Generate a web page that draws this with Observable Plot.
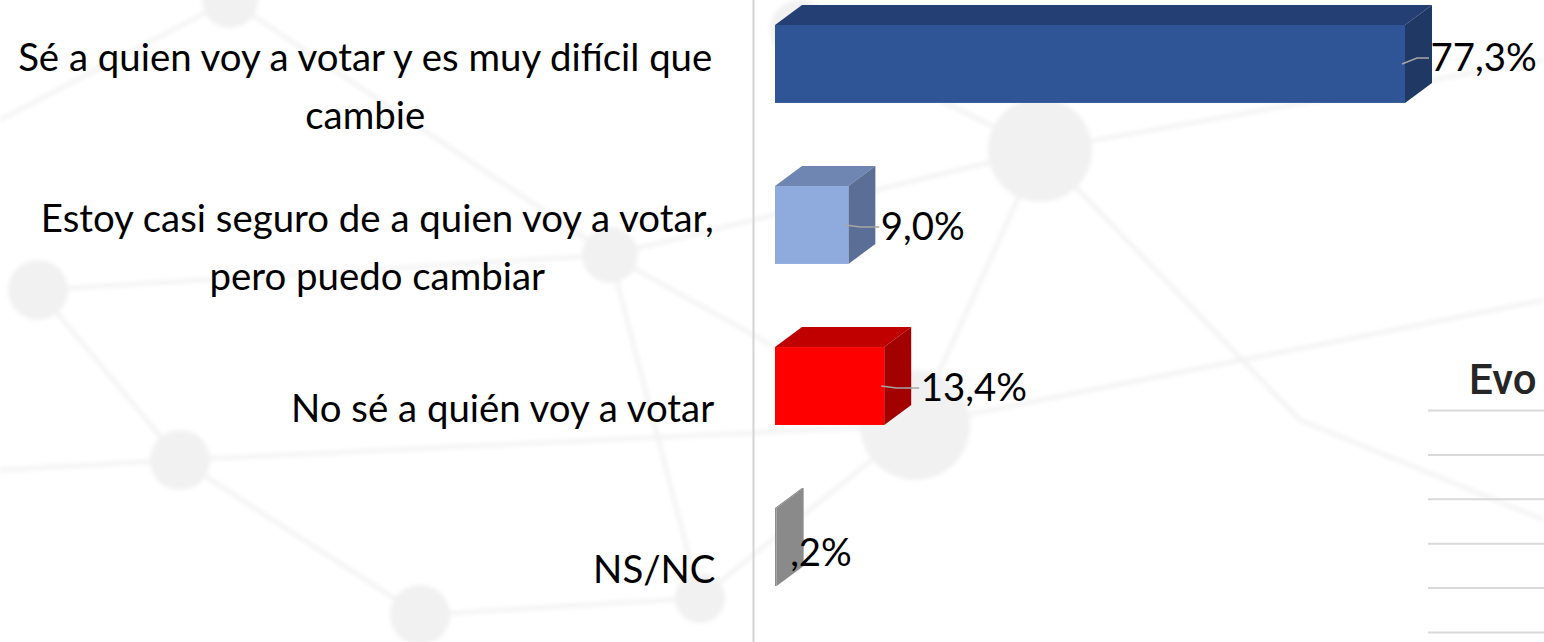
<!DOCTYPE html>
<html>
<head>
<meta charset="utf-8">
<script src="https://cdn.jsdelivr.net/npm/d3@7"></script>
<script src="https://cdn.jsdelivr.net/npm/@observablehq/plot@0.6"></script>
<style>
  html, body { margin: 0; padding: 0; background: #ffffff; width: 1544px; height: 642px; overflow: hidden; }
  #wrap { position: relative; width: 1544px; height: 642px; }
  #bg, #chart, #evo, #evoTitle { position: absolute; }
  #bg { left: 0; top: 0; }
  #chart { left: 0; top: 0; }
  #evo { left: 1428px; top: 400px; }
  #evoTitle { left: 1469px; top: 355px; font-family: Roboto, sans-serif; font-weight: 500; font-size: 42px; color: #262626; white-space: nowrap; }
</style>
</head>
<body>
<div id="wrap">
  <svg id="bg" width="1544" height="642">
    <defs><filter id="blur"><feGaussianBlur stdDeviation="2"/></filter></defs>
    <g filter="url(#blur)">
    <g stroke="#f2f2f2" stroke-width="4" fill="none">
      <path d="M38,290 L610,255 L1040,150 L1544,60"/>
      <path d="M0,120 L230,0"/>
      <path d="M230,0 L610,255 L915,425 L1544,300"/>
      <path d="M38,290 L180,460 L420,615"/>
      <path d="M180,460 L915,425 L1040,150 L800,30"/>
      <path d="M420,615 L700,598 L915,425"/>
      <path d="M0,470 L180,460"/>
      <path d="M610,255 L700,598"/>
      <path d="M1040,150 L1300,420 L1544,520"/>
    </g>
    <g fill="#f1f1f1">
      <circle cx="1040" cy="150" r="52"/>
      <circle cx="915" cy="425" r="55"/>
      <circle cx="610" cy="255" r="28"/>
      <circle cx="38" cy="290" r="30"/>
      <circle cx="180" cy="460" r="30"/>
      <circle cx="420" cy="615" r="30"/>
      <circle cx="700" cy="598" r="25"/>
      <circle cx="230" cy="0" r="28"/>
      <circle cx="800" cy="30" r="30"/>
    </g>
    </g>
  </svg>
  <div id="chart"></div>
  <div id="evoTitle">Evo</div>
  <div id="evo"></div>
</div>
<script>
// ---- data ----
const categories = [
  "Sé a quien voy a votar y es muy difícil que\ncambie",
  "Estoy casi seguro de a quien voy a votar,\npero puedo cambiar",
  "No sé a quién voy a votar",
  "NS/NC"
];
const values = [77.3, 9.0, 13.4, 0.2];
const valueLabels = ["77,3%", "9,0%", "13,4%", ",2%"];
const evoGridTicks = [0, 1, 2, 3, 4, 5];

// ---- styles ----
const frontColors = ["#2F5597", "#8FAADC", "#FF0000", "#8C8C8C"];
const topColors = ["#243F73", "#6F86B2", "#C00000", "#808080"];
const sideColors = ["#1F3864", "#5A6E96", "#A30000", "#8A8A8A"];
const labelDx = [25, 32, 36, 13];
const labelDy = [-6, 2, 2, 6];
const depthX = 27, depthY = 20;
const FONT = "Lato";

const data = categories.map((c, i) => ({category: c, value: values[i], label: valueLabels[i], i}));

// font size so the longest line matches the reference width
const ctx = document.createElement("canvas").getContext("2d");
ctx.font = `100px ${FONT}`;
const w100 = ctx.measureText("Sé a quien voy a votar y es muy difícil que").width;
const catSize = 100 * 701 / w100;
ctx.font = `${catSize}px ${FONT}`;
function lineWidths(s) { return s.split("\n").map(l => ctx.measureText(l).width); }

const labelRight = 715; // right edge of category labels
const x0px = 775;

const faces3d = (index, scales) => {
  const {x, y} = scales;
  const g = d3.create("svg:g");
  data.forEach((d, i) => {
    const xa = x(0), xb = x(d.value), yt = y(d.category), yb = yt + y.bandwidth();
    g.append("polygon")
      .attr("points", [[xa, yt], [xa + depthX, yt - depthY], [xb + depthX, yt - depthY], [xb, yt]].join(" "))
      .attr("fill", topColors[i]);
    g.append("polygon")
      .attr("points", [[xb, yt], [xb + depthX, yt - depthY], [xb + depthX, yb - depthY], [xb, yb]].join(" "))
      .attr("fill", sideColors[i]);
  });
  return g.node();
};

const leaders = (index, scales) => {
  const {x, y} = scales;
  const g = d3.create("svg:g").attr("stroke", "#a6a6a6").attr("stroke-width", 1.5).attr("fill", "none");
  data.forEach((d, i) => {
    if (labelDx[i] < 20) return;
    const xb = x(d.value), yc = y(d.category) + y.bandwidth() / 2;
    g.append("path").attr("d", `M${xb - 3},${yc} L${xb + Math.min(12, labelDx[i] - 6)},${yc + labelDy[i]} L${xb + labelDx[i] - 1},${yc + labelDy[i]}`);
  });
  return g.node();
};

const catLabelMarks = data.map((d, i) => {
  const maxW = Math.max(...lineWidths(d.category));
  return Plot.text([d], {
    x: () => 0, y: "category", text: "category",
    dx: labelRight - x0px - maxW / 2, dy: 17,
    textAnchor: "middle", lineAnchor: "middle", lineHeight: 1.5,
    fontSize: catSize, fontFamily: FONT, fill: "#000"
  });
});

const valueLabelMarks = data.map((d, i) => Plot.text([d], {
  x: "value", y: "category", text: "label",
  dx: labelDx[i], dy: labelDy[i],
  textAnchor: "start", lineAnchor: "middle",
  fontSize: catSize * 1.0, fontFamily: FONT, fill: "#000"
}));

const chart = Plot.plot({
  width: 1544, height: 642, margin: 0,
  style: {background: "transparent", overflow: "visible"},
  x: {domain: [0, 100], range: [x0px, x0px + 815], axis: null},
  y: {type: "band", domain: categories, range: [25, 586], paddingInner: 0.516, paddingOuter: 0, round: false, axis: null},
  color: {type: "identity"},
  marks: [
    Plot.ruleX([0], {dx: -22, stroke: "#d4d4d4", strokeWidth: 2}),
    faces3d,
    Plot.barX(data, {x: "value", y: "category", fill: d => frontColors[d.i]}),
    leaders,
    ...valueLabelMarks,
    ...catLabelMarks
  ]
});
document.getElementById("chart").append(chart);

const evo = Plot.plot({
  width: 116, height: 240, margin: 0,
  style: {background: "transparent"},
  x: {axis: null},
  y: {domain: [5, 0], range: [10, 232], axis: null},
  marks: [Plot.ruleY(evoGridTicks, {stroke: "#d9d9d9", strokeWidth: 2})]
});
document.getElementById("evo").append(evo);
</script>
</body>
</html>
